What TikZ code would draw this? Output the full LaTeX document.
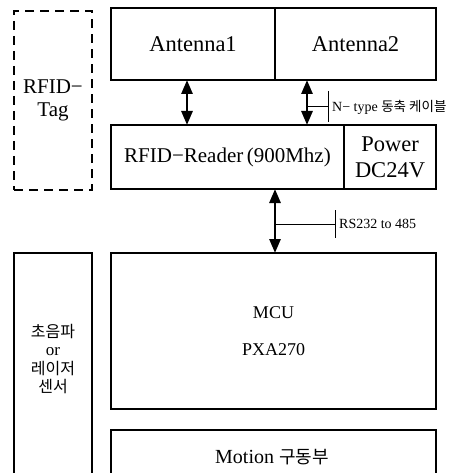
\documentclass[tikz,border=0pt]{standalone}
\usepackage{fontspec}
\setmainfont{Liberation Serif}
\newfontfamily\krfont{Noto Sans CJK KR}
\usetikzlibrary{arrows.meta}
\tikzset{
  box/.style={draw=black, line width=1.1pt, inner sep=0pt, outer sep=0pt, anchor=north west, align=center},
  dbox/.style={box, dashed, dash pattern=on 9pt off 6pt},
  big/.style={font=\fontsize{22.5}{26}\selectfont},
  mid/.style={font=\fontsize{18}{37}\selectfont},
  small/.style={font=\fontsize{14}{16}\selectfont, inner sep=0pt, anchor=west},
  dbl/.style={line width=2.8pt, {Triangle[length=14pt,width=11pt]}-{Triangle[length=14pt,width=11pt]}},
  tick/.style={line width=1pt},
}
\begin{document}
\begin{tikzpicture}[x=1pt,y=-1pt]
\useasboundingbox (0,0) rectangle (458,473);
\fill[white] (0,0) rectangle (458,473);
% top
\node[dbox, minimum width=78pt, minimum height=179pt, font=\fontsize{21}{23}\selectfont] (tag) at (14,11) {RFID−\\Tag};
\node[box, minimum width=164pt, minimum height=72pt, big] (ant1) at (111,8) {Antenna1};
\node[box, minimum width=161pt, minimum height=72pt, big] (ant2) at (275,8) {Antenna2};
\node[box, minimum width=233pt, minimum height=64pt, font=\fontsize{21}{25}\selectfont] (reader) at (111,125) {RFID−Reader\,(900Mhz)};
\node[box, minimum width=92pt, minimum height=64pt, big] (power) at (344,125) {Power\\DC24V};
% bottom
\node[box, minimum width=78pt, minimum height=230pt] (sensor) at (14,253) {};
\node[font=\krfont\fontsize{16}{18.5}\selectfont, align=center] (sensortext) at (53,359) {초음파\\{\rmfamily\fontsize{17}{18}\selectfont or}\\레이저\\센서};
\node[box, minimum width=325pt, minimum height=156pt, mid] (mcu) at (111,253) {MCU\\PXA270};
\node[box, minimum width=325pt, minimum height=60pt] (motion) at (111,430) {};
\node[font=\fontsize{20}{22}\selectfont] (motiontext) at (272,457) {Motion {\krfont\fontsize{18}{20}\selectfont 구동부}};
% arrows
\draw[dbl] (ant1.south -| 187,0) -- (reader.north -| 187,0);
\draw[dbl] (ant2.south -| 307,0) -- (reader.north -| 307,0);
\draw[dbl] (reader.south -| 275,0) -- (mcu.north -| 275,0);
% N-type label
\coordinate (na) at (307,107);
\coordinate (nb) at (328,107);
\coordinate (nt1) at (328,91);
\coordinate (nt2) at (328,122);
\draw[tick] (na) -- (nb);
\draw[tick] (nt1) -- (nt2);
\node[small] (ntype) at (332,107) {N− type {\krfont\fontsize{13.5}{15}\selectfont 동축 케이블}};
% RS232 label
\coordinate (ra) at (275,224);
\coordinate (rb) at (335,224);
\coordinate (rt1) at (335,210);
\coordinate (rt2) at (335,238);
\draw[tick] (ra) -- (rb);
\draw[tick] (rt1) -- (rt2);
\node[small] (rs) at (339,224) {RS232 to 485};
\end{tikzpicture}
\end{document}
